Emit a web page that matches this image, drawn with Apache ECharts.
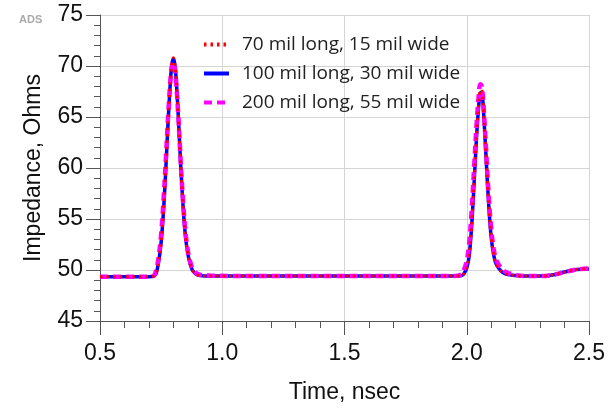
<!DOCTYPE html>
<html>
<head>
<meta charset="utf-8">
<script src="https://cdn.jsdelivr.net/npm/echarts@6/dist/echarts.min.js"></script>
<style>
  html, body { margin: 0; padding: 0; background: #fff; }
  #chart { width: 614px; height: 409px; }
</style>
</head>
<body>
<div id="chart"></div>
<script>
// time axis (nsec), shared by all three traces
const time = [0.5, 0.6, 0.7, 0.72, 0.73, 0.74, 0.75, 0.76, 0.77, 0.78, 0.79, 0.795, 0.8, 0.805, 0.81, 0.82, 0.83, 0.84, 0.85, 0.86, 0.87, 0.88, 0.9, 0.95,
  1.2, 1.5, 1.8, 1.95, 1.98, 1.99, 2.0, 2.01, 2.02, 2.03, 2.04, 2.05, 2.055, 2.06, 2.065, 2.07, 2.08, 2.09, 2.1, 2.11, 2.12, 2.14, 2.16, 2.2, 2.25, 2.3, 2.35, 2.4, 2.45, 2.5];

// impedance, Ohms
const z70 = [49.35, 49.35, 49.35, 49.4, 49.7, 50.8, 52.7, 55.9, 60.3, 65.2, 69.3, 70.4, 70.8, 70.4, 69.3, 65.2, 60.3, 56.2, 53.2, 51.5, 50.5, 49.9, 49.5, 49.4,
  49.4, 49.4, 49.4, 49.4, 49.45, 49.7, 50.2, 51.4, 54.4, 58.6, 63.2, 66.6, 67.6, 67.7, 67.0, 65.2, 60.7, 56.4, 53.2, 51.5, 50.6, 49.9, 49.6, 49.45, 49.4, 49.4, 49.5, 49.8, 50.05, 50.1];
const z100 = [49.35, 49.35, 49.35, 49.4, 49.7, 50.8, 52.7, 55.9, 60.3, 65.2, 69.2, 70.3, 70.7, 70.3, 69.2, 65.2, 60.3, 56.2, 53.2, 51.5, 50.5, 49.9, 49.5, 49.4,
  49.4, 49.4, 49.4, 49.4, 49.45, 49.7, 50.2, 51.4, 54.3, 58.5, 63.0, 66.4, 67.3, 67.4, 66.8, 65.0, 60.6, 56.3, 53.2, 51.5, 50.6, 49.9, 49.6, 49.45, 49.4, 49.4, 49.5, 49.8, 50.05, 50.1];
const z200 = [49.35, 49.35, 49.35, 49.45, 50.0, 51.3, 53.5, 56.9, 61.2, 65.7, 69.2, 70.1, 70.4, 70.0, 68.9, 65.2, 60.6, 56.6, 53.6, 51.8, 50.7, 50.1, 49.6, 49.45,
  49.4, 49.4, 49.4, 49.4, 49.6, 50.1, 50.9, 52.6, 55.8, 60.0, 64.2, 67.4, 68.2, 68.1, 67.3, 65.6, 61.4, 57.2, 54.0, 52.1, 51.0, 50.2, 49.8, 49.5, 49.4, 49.4, 49.5, 49.8, 50.05, 50.15];

const xTicks = [0.5, 1.0, 1.5, 2.0, 2.5];
const yTicks = [45, 50, 55, 60, 65, 70, 75];

const names = ["70 mil long, 15 mil wide", "100 mil long, 30 mil wide", "200 mil long, 55 mil wide"];

const pairs = (ys) => time.map((t, i) => [t, ys[i]]);

const chart = echarts.init(document.getElementById("chart"), null, { renderer: "canvas" });

const axisColor = "#555";
const gridColor = "#d4d4d4";

chart.setOption({
  animation: false,
  backgroundColor: "#fff",
  textStyle: { fontFamily: "Liberation Sans" },
  graphic: [
    { type: "text", left: 19, top: 14, style: { text: "ADS", fill: "#aaa", font: "bold 11px Liberation Sans" } },
  ],
  legend: {
    orient: "vertical",
    left: 197,
    top: 30,
    itemWidth: 25,
    itemHeight: 20,
    itemGap: 10,
    itemStyle: { opacity: 0 },
    lineStyle: { width: 4 },
    textStyle: { fontFamily: "Open Sans", fontSize: 19, color: "#222", padding: [0, 0, 0, 8] },
    data: names,
  },
  grid: { left: 100, right: 25, top: 15, bottom: 87 },
  xAxis: {
    type: "value",
    min: xTicks[0],
    max: xTicks[xTicks.length - 1],
    interval: 0.5,
    name: "Time, nsec",
    nameLocation: "middle",
    nameGap: 60,
    nameTextStyle: { fontSize: 23, color: "#111" },
    axisLine: { lineStyle: { color: axisColor } },
    axisTick: { inside: false, length: 14, lineStyle: { color: axisColor } },
    minorTick: { show: true, splitNumber: 5, length: 7, lineStyle: { color: axisColor } },
    axisLabel: { fontSize: 23, color: "#111", margin: 21, formatter: (v) => v.toFixed(1) },
    splitLine: { show: true, lineStyle: { color: gridColor } },
  },
  yAxis: {
    type: "value",
    min: yTicks[0],
    max: yTicks[yTicks.length - 1],
    interval: 5,
    name: "Impedance, Ohms",
    nameLocation: "middle",
    nameGap: 55,
    nameTextStyle: { fontSize: 23, color: "#111" },
    axisLine: { show: true, lineStyle: { color: axisColor } },
    axisTick: { show: true, length: 14, lineStyle: { color: axisColor } },
    minorTick: { show: true, splitNumber: 5, length: 6, lineStyle: { color: axisColor } },
    axisLabel: { fontSize: 23, color: "#111", margin: 17 },
    splitLine: { show: true, lineStyle: { color: gridColor } },
  },
  series: [
    {
      name: names[1], type: "line", data: pairs(z100), symbol: "none", smooth: 0.35, z: 2,
      lineStyle: { color: "#0000ff", width: 3.5 }, itemStyle: { color: "#0000ff" },
    },
    {
      name: names[2], type: "line", data: pairs(z200), symbol: "none", smooth: 0.35, z: 3,
      lineStyle: { color: "#ff00ff", width: 4.5, type: [8, 5] }, itemStyle: { color: "#ff00ff" },
    },
    {
      name: names[0], type: "line", data: pairs(z70), symbol: "none", smooth: 0.35, z: 4,
      lineStyle: { color: "#ff0000", width: 3, type: [2.5, 4] }, itemStyle: { color: "#ff0000" },
    },
  ],
});
</script>
</body>
</html>
